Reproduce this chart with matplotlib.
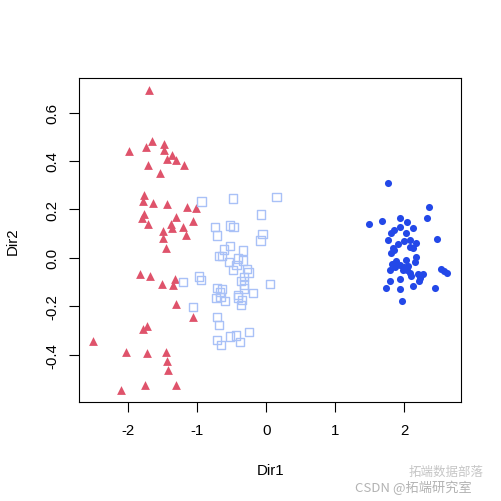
import matplotlib
matplotlib.use("Agg")
import matplotlib.pyplot as plt

# --- data ---
setosa_x = [-1.696, -1.652, -1.995, -1.748, -1.478, -1.478, -1.367, -1.443, -1.309, -1.188,
            -1.710, -1.541, -1.768, -1.783, -1.638, -1.435, -1.145, -1.014, -1.772, -1.797,
            -1.304, -1.714, -1.062, -1.377, -1.371, -1.212, -1.493, -1.159, -1.497,
            -1.449, -1.830, -1.690, -1.507, -1.328, -1.357, -1.313, -1.058, -1.733, -1.783,
            -2.507, -2.029, -1.725, -1.458, -1.435, -1.425, -1.758, -1.304, -2.106]
setosa_y = [0.694, 0.483, 0.443, 0.459, 0.470, 0.447, 0.424, 0.407, 0.406, 0.385,
            0.383, 0.352, 0.258, 0.236, 0.226, 0.222, 0.212, 0.204, 0.182, 0.166,
            0.169, 0.141, 0.153, 0.140, 0.125, 0.129, 0.110, 0.093, 0.084,
            0.042, -0.066, -0.076, -0.109, -0.086, -0.113, -0.191, -0.242, -0.279, -0.295,
            -0.342, -0.390, -0.394, -0.390, -0.424, -0.464, -0.523, -0.526, -0.546]

versicolor_x = [-0.942, -0.743, -0.719, -1.212, -0.980, -0.951, -1.062,
                -0.487, 0.145, -0.081, -0.526, -0.478, -0.058, -0.087, -0.617, -0.526,
                -0.342, -0.690, -0.642, -0.541, -0.415, -0.342, -0.435, -0.487, -0.280,
                -0.261, -0.328, -0.371, -0.323, -0.323, 0.049, -0.193, -0.714, -0.642,
                -0.671, -0.729, -0.667, -0.599, -0.415, -0.410, -0.352, -0.371, -0.719,
                -0.690, -0.255, -0.719, -0.657, -0.530, -0.439, -0.386]
versicolor_y = [0.233, 0.129, 0.092, -0.099, -0.076, -0.091, -0.202,
                0.245, 0.251, 0.179, 0.134, 0.128, 0.099, 0.072, 0.035, 0.048,
                0.031, 0.008, 0.007, -0.018, -0.002, -0.010, -0.029, -0.049, -0.045,
                -0.060, -0.080, -0.096, -0.109, -0.126, -0.107, -0.144, -0.125, -0.129,
                -0.140, -0.166, -0.160, -0.177, -0.152, -0.163, -0.174, -0.193, -0.244,
                -0.277, -0.306, -0.339, -0.358, -0.324, -0.320, -0.347]

virginica_x = [1.754, 2.348, 2.319, 1.493, 1.681, 1.942, 2.043, 1.942, 2.130, 1.841,
               1.803, 2.029, 1.754, 2.464, 1.986, 1.913, 2.083, 2.165, 2.083, 2.130,
               1.841, 1.803, 2.174, 2.151, 2.029, 1.880, 1.812, 1.928, 1.986, 1.865,
               1.783, 2.043, 2.083, 2.101, 2.203, 2.275, 2.228, 2.217, 2.532, 2.571,
               2.614, 1.928, 1.783, 1.739, 1.928, 2.130, 2.435, 1.971, 1.832, 1.977, 2.058]
virginica_y = [0.309, 0.210, 0.165, 0.140, 0.152, 0.165, 0.148, 0.128, 0.123, 0.116,
               0.103, 0.103, 0.074, 0.078, 0.071, 0.059, 0.075, 0.063, 0.044, 0.041,
               0.031, 0.021, 0.004, -0.018, -0.010, -0.012, -0.023, -0.029, -0.037, -0.037,
               -0.048, -0.048, -0.062, -0.073, -0.065, -0.065, -0.082, -0.096, -0.047, -0.055,
               -0.063, -0.087, -0.095, -0.124, -0.130, -0.114, -0.124, -0.177, 0.040, -0.048, -0.034]

x_ticks = [-2, -1, 0, 1, 2]
y_ticks = [-0.4, -0.2, 0.0, 0.2, 0.4, 0.6]
x_label = "Dir1"
y_label = "Dir2"

plt.rcParams['font.family'] = ['Liberation Sans', 'DejaVu Sans']

fig = plt.figure(figsize=(5.02, 5.02), dpi=100)
W = H = 502.0
left, right, top, bottom = 79.3, 461.0, 78.7, 403.3
ax = fig.add_axes([left / W, 1 - bottom / H, (right - left) / W, (bottom - top) / H])

ax.scatter(setosa_x, setosa_y, marker='^', s=40, color='#DF536B', linewidths=0, zorder=3)
ax.scatter(versicolor_x, versicolor_y, marker='s', s=36, facecolors='none',
           edgecolors='#A9C1F7', linewidths=1.0, zorder=3)
ax.scatter(virginica_x, virginica_y, marker='o', s=26, color='#2348E8', linewidths=0, zorder=3)

# R-style 4% padding around the data range
xmin, xmax = min(setosa_x + versicolor_x + virginica_x), max(setosa_x + versicolor_x + virginica_x)
ymin, ymax = min(setosa_y + versicolor_y + virginica_y), max(setosa_y + versicolor_y + virginica_y)
dx = (xmax - xmin) * 0.04
dy = (ymax - ymin) * 0.04
ax.set_xlim(xmin - dx, xmax + dx)
ax.set_ylim(ymin - dy, ymax + dy)

fs = 10.8
ax.set_xticks(x_ticks)
ax.set_xticklabels([str(t) for t in x_ticks])
ax.set_yticks(y_ticks)
ax.set_yticklabels(["%.1f" % t for t in y_ticks], rotation=90, va='center')
ax.tick_params(axis='both', length=7.2, width=0.8, labelsize=fs, direction='out', color='black')
ax.tick_params(axis='x', pad=8)
ax.tick_params(axis='y', pad=7)
for s in ax.spines.values():
    s.set_linewidth(0.8)

ax.set_xlabel(x_label, fontsize=fs)
ax.set_ylabel(y_label, fontsize=fs)
ax.xaxis.label.set_va('center')
ax.yaxis.label.set_va('center')
ax.xaxis.set_label_coords(0.5, -(470.7 - bottom) / (bottom - top))
ax.yaxis.set_label_coords(-(left - 12.7) / (right - left), 0.5)

# watermark
fig.text(413 / W, 1 - 488 / H, "CSDN @拓端研究室", fontsize=9.5, color='#A0A0A0',
         family=['Noto Sans CJK SC', 'DejaVu Sans'], ha='center', va='center', alpha=0.8)
fig.text(446 / W, 1 - 472 / H, "拓端数据部落", fontsize=9.0, color='#A0A0A0',
         family=['Noto Sans CJK SC', 'DejaVu Sans'], ha='center', va='center', alpha=0.6)

fig.savefig("out.png", dpi=100)
